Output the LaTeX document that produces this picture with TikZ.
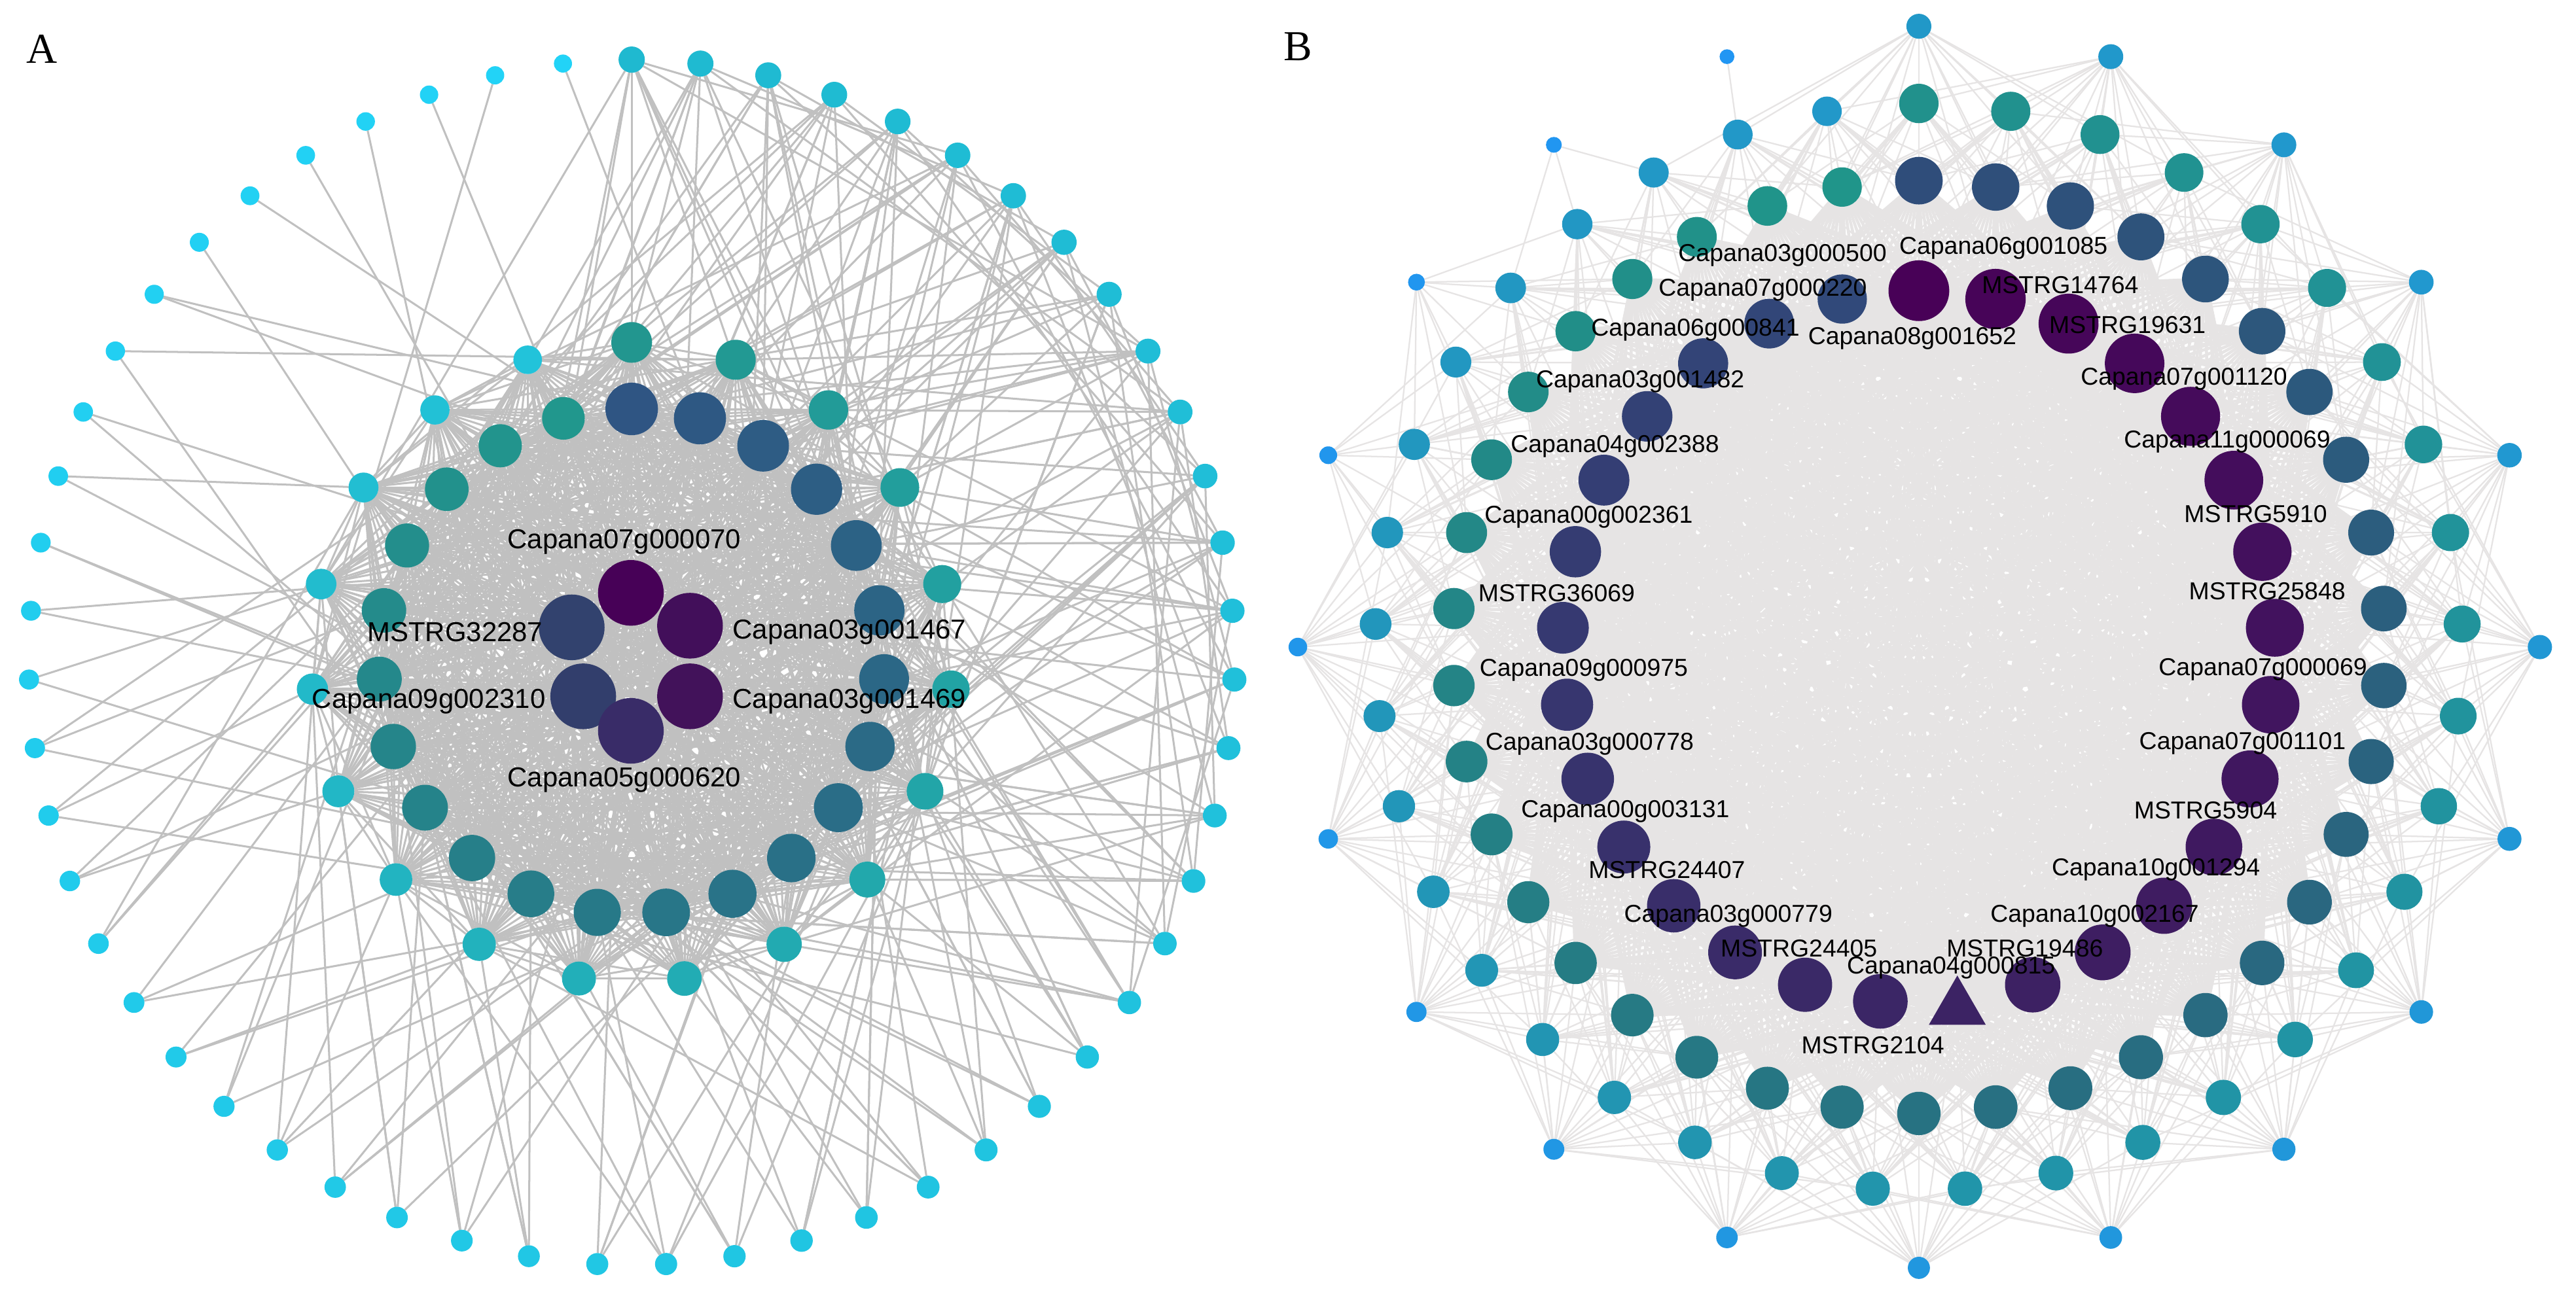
\documentclass[tikz,border=0pt]{standalone}
\usepackage{fontspec}
\setmainfont{Liberation Serif}
\newfontfamily\labfont{Liberation Sans}
\usetikzlibrary{shapes.geometric,backgrounds}
\definecolor{aOs}{HTML}{1FB9D0}
\definecolor{aOe}{HTML}{22D3F7}
\definecolor{aTs}{HTML}{22968F}
\definecolor{aTe}{HTML}{22C3DA}
\definecolor{aSs}{HTML}{2F5583}
\definecolor{aSe}{HTML}{21978D}
\definecolor{acA}{HTML}{470157}
\definecolor{acB}{HTML}{420F5A}
\definecolor{acC}{HTML}{32426E}
\definecolor{acD}{HTML}{323E6C}
\definecolor{acE}{HTML}{42125A}
\definecolor{acF}{HTML}{392C68}
\definecolor{bIs}{HTML}{480157}
\definecolor{bIm}{HTML}{3C2364}
\definecolor{bIe}{HTML}{31497A}
\definecolor{bIIs}{HTML}{2F4D7A}
\definecolor{bIIe}{HTML}{20958A}
\definecolor{bIIIs}{HTML}{21918C}
\definecolor{bIIIe}{HTML}{2298C9}
\definecolor{bIVs}{HTML}{2198C8}
\definecolor{bIVe}{HTML}{2196F3}
\definecolor{edgeAcol}{HTML}{C0C0C0}
\definecolor{edgeBcol}{HTML}{E6E4E4}
\begin{document}
\begin{tikzpicture}[x=1pt,y=-1pt,
  dot/.style={circle,inner sep=0pt,outer sep=0pt,draw=none},
  labA/.style={font=\labfont\fontsize{16.7}{18}\selectfont,inner sep=0pt,text=black},
  labB/.style={font=\labfont\fontsize{14.9}{16}\selectfont,inner sep=0pt,text=black},
  edgeA/.style={draw=edgeAcol,line width=1.2pt},
  edgeB/.style={draw=edgeBcol,line width=0.9pt},
  edgeBcore/.style={draw=edgeBcol,line width=1.8pt},
  panellabel/.style={font=\fontsize{26}{28}\selectfont,inner sep=0pt}]
\path[use as bounding box] (0,0) rectangle (1568,790);

% ================= Panel A nodes =================
% outer ring
\foreach \nn in {0,...,54}{
  \pgfmathsetmacro{\ang}{90-360/55*\nn}
  \pgfmathsetmacro{\px}{384.5+367*cos(\ang)}
  \pgfmathsetmacro{\py}{403.3-367*sin(\ang)}
  \pgfmathsetmacro{\dd}{16-5*\nn/54}
  \pgfmathtruncatemacro{\pc}{100-100*\nn/54}
  \node[dot,minimum size=\dd pt,fill=aOs!\pc!aOe] (ao\nn) at (\px,\py) {};
}
% third ring
\foreach \nn in {0,...,18}{
  \pgfmathsetmacro{\ang}{90-360/19*\nn}
  \pgfmathsetmacro{\px}{384.5+195*cos(\ang)}
  \pgfmathsetmacro{\py}{403.5-195*sin(\ang)}
  \pgfmathsetmacro{\dd}{24.8-7.4*\nn/18}
  \pgfmathtruncatemacro{\pc}{100-100*\nn/18}
  \node[dot,minimum size=\dd pt,fill=aTs!\pc!aTe] (at\nn) at (\px,\py) {};
}
% second ring
\foreach \nn in {0,...,22}{
  \pgfmathsetmacro{\ang}{90-360/23*\nn}
  \pgfmathsetmacro{\px}{384.5+154*cos(\ang)}
  \pgfmathsetmacro{\py}{403-154*sin(\ang)}
  \pgfmathsetmacro{\dd}{32-6*\nn/22}
  \pgfmathtruncatemacro{\pc}{100-100*\nn/22}
  \node[dot,minimum size=\dd pt,fill=aSs!\pc!aSe] (as\nn) at (\px,\py) {};
}
% centre
\node[dot,minimum size=40pt,fill=acA] (ac1) at (384,361) {};
\node[dot,minimum size=40pt,fill=acB] (ac2) at (420,381) {};
\node[dot,minimum size=40pt,fill=acC] (ac3) at (348,382) {};
\node[dot,minimum size=40pt,fill=acD] (ac4) at (355,424) {};
\node[dot,minimum size=40pt,fill=acE] (ac5) at (420,424) {};
\node[dot,minimum size=40pt,fill=acF] (ac6) at (384,445) {};
\node[labA] (la1) at (380,330) {Capana07g000070};
\node[labA] (la2) at (277,385) {MSTRG32287};
\node[labA] (la3) at (517,385) {Capana03g001467};
\node[labA] (la4) at (261,427) {Capana09g002310};
\node[labA] (la5) at (517,427) {Capana03g001469};
\node[labA] (la6) at (380,475) {Capana05g000620};
\node[panellabel] (pA) at (25.5,30) {A};

% ================= Panel B nodes =================
% ring IV (outermost)
\foreach \nn in {0,...,19}{
  \pgfmathsetmacro{\ang}{90-18*\nn}
  \pgfmathsetmacro{\px}{1168+378*cos(\ang)}
  \pgfmathsetmacro{\py}{394-378*sin(\ang)}
  \pgfmathsetmacro{\dd}{15.2-6.2*(\nn/19)^2}
  \pgfmathtruncatemacro{\pc}{100-100*\nn/19}
  \node[dot,minimum size=\dd pt,fill=bIVs!\pc!bIVe] (bs\nn) at (\px,\py) {};
}
% ring III
\foreach \nn in {0,...,36}{
  \pgfmathsetmacro{\ang}{90-360/37*\nn}
  \pgfmathsetmacro{\px}{1168+331*cos(\ang)}
  \pgfmathsetmacro{\py}{394-331*sin(\ang)}
  \pgfmathsetmacro{\dd}{24-6*\nn/36}
  \pgfmathtruncatemacro{\pc}{100-100*\nn/36}
  \node[dot,minimum size=\dd pt,fill=bIIIs!\pc!bIIIe] (br\nn) at (\px,\py) {};
}
% ring II
\foreach \nn in {0,...,37}{
  \pgfmathsetmacro{\ang}{90-360/38*\nn}
  \pgfmathsetmacro{\px}{1168+284*cos(\ang)}
  \pgfmathsetmacro{\py}{394-284*sin(\ang)}
  \pgfmathsetmacro{\dd}{29-5*\nn/37}
  \pgfmathtruncatemacro{\pc}{100-100*\nn/37}
  \node[dot,minimum size=\dd pt,fill=bIIs!\pc!bIIe] (bq\nn) at (\px,\py) {};
}
% ring I (labelled)
\foreach \nn in {0,...,28}{
  \pgfmathsetmacro{\ang}{90-360/29*\nn}
  \pgfmathsetmacro{\px}{1168+217*cos(\ang)}
  \pgfmathsetmacro{\py}{394-217*sin(\ang)}
  \pgfmathsetmacro{\dd}{37-7*\nn/28}
  \ifnum\nn<15
    \pgfmathtruncatemacro{\pc}{100-100*\nn/14}
    \colorlet{curcol}{bIs!\pc!bIm}
  \else
    \pgfmathtruncatemacro{\pc}{100-100*(\nn-14)/14}
    \colorlet{curcol}{bIm!\pc!bIe}
  \fi
  \ifnum\nn=14
    \node[regular polygon,regular polygon sides=3,inner sep=0pt,outer sep=0pt,minimum size=40pt,fill=curcol] (bp\nn) at (1191.4,614) {};
  \else
    \node[dot,minimum size=\dd pt,fill=curcol] (bp\nn) at (\px,\py) {};
  \fi
}
\foreach \lx/\ly/\lt [count=\cc] in {
  1085/155.5/Capana03g000500, 1219.5/151/Capana06g001085, 1073/176.6/Capana07g000220,
  1254/173.5/MSTRG14764, 1032/201/Capana06g000841, 1164/206/Capana08g001652,
  1295/198/MSTRG19631, 998.4/232.5/Capana03g001482, 1329.4/230.7/Capana07g001120,
  983/272/Capana04g002388, 1355.7/269/Capana11g000069, 967/315/Capana00g002361,
  1373/313/MSTRG5910, 947.5/361/MSTRG36069, 1380/360/MSTRG25848,
  964/408/Capana09g000975, 1377.4/407.5/Capana07g000069, 967.6/453/Capana03g000778,
  1365/452.5/Capana07g001101, 989.3/494/Capana00g003131, 1342.5/493.4/MSTRG5904,
  1014.6/529.5/MSTRG24407, 1312.3/529.5/Capana10g001294, 1052/558/Capana03g000779,
  1275/558/Capana10g002167, 1095/577.5/MSTRG24405, 1232.5/577.5/MSTRG19486,
  1187.6/589.4/Capana04g000815, 1140/636.4/MSTRG2104}{
  \node[labB] (lb\cc) at (\lx,\ly) {\lt};
}
\node[panellabel] (pB) at (790,28.5) {B};

% ================= Edges =================
\begin{pgfonlayer}{background}
\fill[white] (0,0) rectangle (1568,790);
% ---- Panel A ----
\foreach \aa in {1,...,5}{
  \pgfmathtruncatemacro{\st}{\aa+1}
  \foreach \bb in {\st,...,6}{\draw[edgeA] (ac\aa)--(ac\bb);}
}
\foreach \aa in {1,...,6}{\foreach \bb in {0,...,22}{\draw[edgeA] (ac\aa)--(as\bb);}}
\foreach \aa in {0,...,21}{
  \pgfmathtruncatemacro{\st}{\aa+1}
  \foreach \bb in {\st,...,22}{\draw[edgeA] (as\aa)--(as\bb);}
}
\foreach \aa in {0,...,18}{
  \foreach \bb in {0,...,22}{\draw[edgeA] (at\aa)--(as\bb);}
  \foreach \bb in {1,...,6}{\draw[edgeA] (at\aa)--(ac\bb);}
  \pgfmathtruncatemacro{\ta}{mod(\aa+1,19)}
  \pgfmathtruncatemacro{\tb}{mod(\aa+2,19)}
  \draw[edgeA] (at\aa)--(at\ta);
  \draw[edgeA] (at\aa)--(at\tb);
}
\pgfmathsetseed{4242}
\foreach \nn in {0,...,54}{
  \pgfmathtruncatemacro{\dg}{9-8*\nn/54}
  \foreach \ee in {1,...,\dg}{
    \pgfmathrandominteger{\tg}{0}{41}
    \ifnum\tg<23
      \draw[edgeA] (ao\nn)--(as\tg);
    \else
      \pgfmathtruncatemacro{\tg}{\tg-23}
      \draw[edgeA] (ao\nn)--(at\tg);
    \fi
  }
}
\foreach \nn in {0,...,14}{
  \pgfmathtruncatemacro{\ta}{\nn+5}
  \draw[edgeA] (ao\nn)--(ao\ta);
}
\foreach \nn in {0,...,10}{
  \pgfmathtruncatemacro{\ta}{\nn+9}
  \draw[edgeA] (ao\nn)--(ao\ta);
}
% ---- Panel B ----
\foreach \aa in {0,...,27}{
  \pgfmathtruncatemacro{\st}{\aa+1}
  \foreach \bb in {\st,...,28}{\draw[edgeBcore] (bp\aa)--(bp\bb);}
}
\foreach \aa in {0,...,37}{\foreach \bb in {0,...,28}{\draw[edgeBcore] (bq\aa)--(bp\bb);}}
\foreach \aa in {0,...,36}{
  \pgfmathtruncatemacro{\bs}{round(0.7838*\aa)}
  \foreach \off in {-6,...,6}{
    \pgfmathtruncatemacro{\tg}{mod(\bs+\off+29,29)}
    \draw[edgeB] (br\aa)--(bp\tg);
  }
  \pgfmathtruncatemacro{\bs}{round(1.027*\aa)}
  \foreach \off in {-2,...,2}{
    \pgfmathtruncatemacro{\tg}{mod(\bs+\off+38,38)}
    \draw[edgeB] (br\aa)--(bq\tg);
  }
}
\foreach \nn in {0,...,19}{
  \pgfmathtruncatemacro{\bt}{round(1.85*\nn)}
  \pgfmathtruncatemacro{\bu}{round(1.9*\nn)}
  \pgfmathtruncatemacro{\bv}{round(1.45*\nn)}
  \ifnum\nn<16
    \foreach \off in {-3,...,3}{
      \pgfmathtruncatemacro{\tg}{mod(\bt+\off+37,37)}
      \draw[edgeB] (bs\nn)--(br\tg);
      \pgfmathtruncatemacro{\tg}{mod(\bu+\off+38,38)}
      \draw[edgeB] (bs\nn)--(bq\tg);
    }
    \foreach \off in {-2,...,2}{
      \pgfmathtruncatemacro{\tg}{mod(\bv+\off+29,29)}
      \draw[edgeB] (bs\nn)--(bp\tg);
    }
  \else
    \ifnum\nn<18
      \foreach \off in {-2,...,2}{
        \pgfmathtruncatemacro{\tg}{mod(\bt+\off+37,37)}
        \draw[edgeB] (bs\nn)--(br\tg);
        \pgfmathtruncatemacro{\tg}{mod(\bu+\off+38,38)}
        \draw[edgeB] (bs\nn)--(bq\tg);
      }
    \else
      \ifnum\nn=18
        \foreach \off in {-1,...,1}{
          \pgfmathtruncatemacro{\tg}{mod(\bt+\off+37,37)}
          \draw[edgeB] (bs\nn)--(br\tg);
        }
      \else
        \pgfmathtruncatemacro{\tg}{mod(\bt+37,37)}
        \draw[edgeB] (bs\nn)--(br\tg);
      \fi
    \fi
  \fi
}
\end{pgfonlayer}
\end{tikzpicture}
\end{document}
